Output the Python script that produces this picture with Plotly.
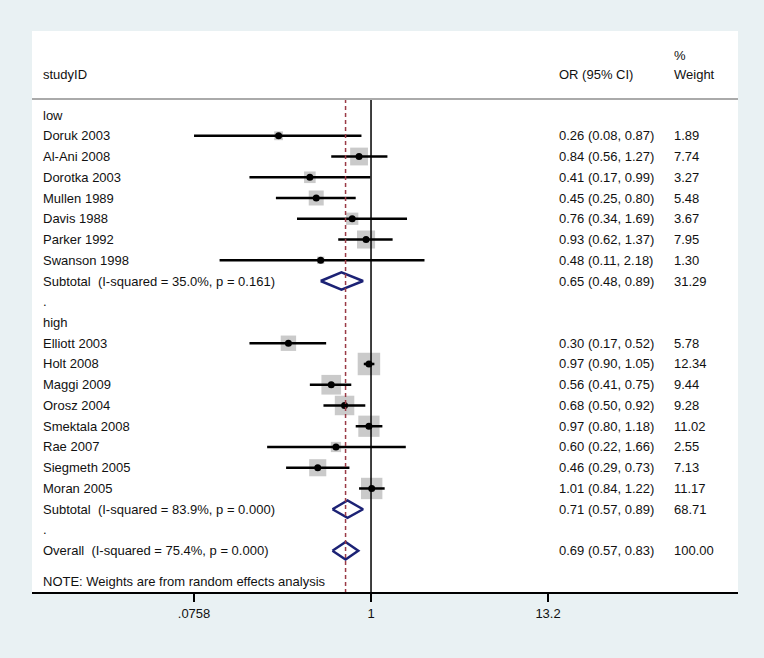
import numpy as np
import plotly.graph_objects as go

FONT = "Liberation Sans, Arial, Helvetica, sans-serif"
TEXT_COLOR = "#111111"
BOX_COLOR = "#b3b3b3"
DIAMOND_COLOR = "#1c2275"
REF_COLOR = "#9a3a46"
BG_COLOR = "#e9f1f3"

# study rows
low_studies = ["Doruk 2003", "Al-Ani 2008", "Dorotka 2003", "Mullen 1989",
               "Davis 1988", "Parker 1992", "Swanson 1998"]
low_or = [0.26, 0.84, 0.41, 0.45, 0.76, 0.93, 0.48]
low_lo = [0.0758, 0.56, 0.17, 0.25, 0.34, 0.62, 0.11]
low_hi = [0.87, 1.27, 0.99, 0.80, 1.69, 1.37, 2.18]
low_wt = [1.89, 7.74, 3.27, 5.48, 3.67, 7.95, 1.30]

high_studies = ["Elliott 2003", "Holt 2008", "Maggi 2009", "Orosz 2004",
                "Smektala 2008", "Rae 2007", "Siegmeth 2005", "Moran 2005"]
high_or = [0.30, 0.97, 0.56, 0.68, 0.97, 0.60, 0.46, 1.01]
high_lo = [0.17, 0.90, 0.41, 0.50, 0.80, 0.22, 0.29, 0.84]
high_hi = [0.52, 1.05, 0.75, 0.92, 1.18, 1.66, 0.73, 1.22]
high_wt = [5.78, 12.34, 9.44, 9.28, 11.02, 2.55, 7.13, 11.17]

# pooled estimates (subtotal low, subtotal high, overall)
pooled_labels = ["Subtotal\u00a0 (I-squared = 35.0%, p = 0.161)",
                 "Subtotal\u00a0 (I-squared = 83.9%, p = 0.000)",
                 "Overall\u00a0 (I-squared = 75.4%, p = 0.000)"]
pooled_or = [0.65, 0.71, 0.69]
pooled_lo = [0.48, 0.57, 0.57]
pooled_hi = [0.89, 0.89, 0.83]
pooled_wt = [31.29, 68.71, 100.00]

tick_vals = [0.0758, 1, 13.2]
tick_text = [".0758", "1", "13.2"]

# x axis is log10(OR) on a linear axis
X_RANGE = [-2.146, 2.323]
LABEL_X = -2.09
OR_X = 1.177
WT_X = 1.905
Y_RANGE = [22.99, -4.05]
SEP_Y = -0.77

groups = [("low", low_studies, low_or, low_lo, low_hi, low_wt),
          ("high", high_studies, high_or, high_lo, high_hi, high_wt)]

labels = []
st_y, st_or, st_lo, st_hi, st_wt = [], [], [], [], []
pool_y = []
y = 0
for k, (name, studies, ors, los, his, wts) in enumerate(groups):
    labels.append((y, name))
    y += 1
    for s, o, lo, hi, w in zip(studies, ors, los, his, wts):
        labels.append((y, s))
        st_y.append(y); st_or.append(o); st_lo.append(lo); st_hi.append(hi); st_wt.append(w)
        y += 1
    labels.append((y, pooled_labels[k]))
    pool_y.append(y)
    y += 1
    labels.append((y, "."))
    y += 1
labels.append((y, pooled_labels[2]))
pool_y.append(y)
note_y = y + 1.5

lx = np.log10

fig = go.Figure()

# weight boxes (area proportional to weight)
fig.add_trace(go.Scatter(
    x=lx(st_or), y=st_y, mode="markers",
    marker=dict(symbol="square", size=6.4 * np.sqrt(st_wt), color=BOX_COLOR,
                line=dict(width=0)),
    hoverinfo="skip"))

# confidence intervals
ci_x, ci_y = [], []
for lo, hi, yy in zip(st_lo, st_hi, st_y):
    ci_x += [lx(lo), lx(hi), None]
    ci_y += [yy, yy, None]
fig.add_trace(go.Scatter(x=ci_x, y=ci_y, mode="lines",
                         line=dict(color="black", width=2.5), hoverinfo="skip"))

# point estimates
fig.add_trace(go.Scatter(x=lx(st_or), y=st_y, mode="markers",
                         marker=dict(symbol="circle", size=7, color="black"),
                         hoverinfo="skip"))

# pooled diamonds
dx, dy = [], []
for o, lo, hi, yy in zip(pooled_or, pooled_lo, pooled_hi, pool_y):
    dx += [lx(lo), lx(o), lx(hi), lx(o), lx(lo), None]
    dy += [yy, yy - 0.42, yy, yy + 0.42, yy, None]
fig.add_trace(go.Scatter(x=dx, y=dy, mode="lines",
                         line=dict(color=DIAMOND_COLOR, width=2.5), hoverinfo="skip"))

# reference lines
fig.add_shape(type="line", xref="x", yref="y", x0=0, x1=0, y0=SEP_Y, y1=Y_RANGE[0],
              line=dict(color="black", width=1.5))
fig.add_shape(type="line", xref="x", yref="y", x0=lx(pooled_or[2]), x1=lx(pooled_or[2]),
              y0=SEP_Y, y1=Y_RANGE[0], line=dict(color=REF_COLOR, width=1.5, dash="4px,3px"))
fig.add_shape(type="line", xref="paper", yref="y", x0=0, x1=1, y0=SEP_Y, y1=SEP_Y,
              line=dict(color="#aaaaaa", width=2))

font = dict(family=FONT, size=13, color=TEXT_COLOR)
ann = []


def text(x, yy, s):
    ann.append(dict(x=x, y=yy, xref="x", yref="y", text=s, showarrow=False,
                    xanchor="left", yanchor="middle", font=font))


text(LABEL_X, -1.93, "studyID")
text(OR_X, -1.93, "OR (95% CI)")
text(WT_X, -2.89, "%")
text(WT_X, -1.93, "Weight")
for yy, s in labels:
    text(LABEL_X, yy, s)
for o, lo, hi, w, yy in zip(st_or + pooled_or, st_lo + pooled_lo, st_hi + pooled_hi,
                            st_wt + pooled_wt, st_y + pool_y):
    text(OR_X, yy, f"{o:.2f} ({lo:.2f}, {hi:.2f})")
    text(WT_X, yy, f"{w:.2f}")
text(LABEL_X, note_y, "NOTE: Weights are from random effects analysis")

fig.update_layout(
    width=764, height=658,
    margin=dict(l=32, r=26, t=31, b=66),
    paper_bgcolor=BG_COLOR, plot_bgcolor="white",
    showlegend=False,
    annotations=ann,
    font=font,
)
fig.update_xaxes(range=X_RANGE, showgrid=False, zeroline=False,
                 showline=True, linecolor="black", linewidth=2,
                 ticks="outside", ticklen=8, tickwidth=1.5, tickcolor="black",
                 tickvals=lx(tick_vals), ticktext=tick_text,
                 tickfont=font)
fig.update_yaxes(range=Y_RANGE, visible=False, showgrid=False, zeroline=False)

# drop the default page margin so the figure fills the window
fig.write_html("out.html",
               config={"displayModeBar": False},
               post_script="document.body.style.margin='0';"
                           "document.body.style.background='%s';" % BG_COLOR)
